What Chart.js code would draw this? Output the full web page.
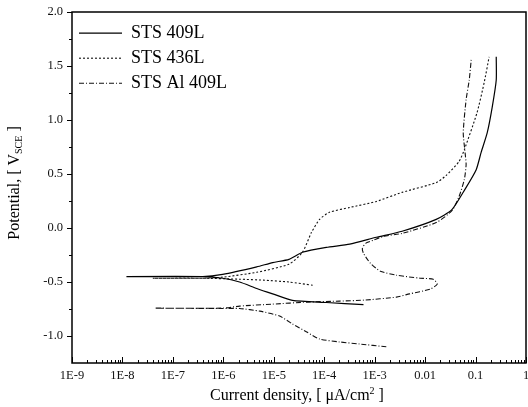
<!DOCTYPE html>
<html>
<head>
<meta charset="utf-8">
<script src="https://cdn.jsdelivr.net/npm/chart.js@4"></script>
<style>
  html, body { margin: 0; padding: 0; background: #fff; }
  #wrap { width: 528px; height: 407px; position: relative; }
</style>
</head>
<body>
<div id="wrap"><canvas id="myChart"></canvas></div>
<script>
// current density [uA/cm2] and potential [V_SCE]
const sts409Current = [6.0e-4, 1.1e-4, 2.35e-5, 9.5e-6, 4.6e-6, 2.1e-6, 9.7e-7, 3.9e-7, 1.2e-8, 3.9e-7, 9.7e-7, 4.6e-6, 9.5e-6, 2.0e-5, 3.7e-5, 1.1e-4, 3.2e-4, 1.08e-3, 3.5e-3, 1.66e-2, 3.4e-2, 6.2e-2, 1.03e-1, 1.29e-1, 1.7e-1, 2.14e-1, 2.57e-1, 2.57e-1];
const sts409Potential = [-0.71, -0.69, -0.67, -0.61, -0.56, -0.50, -0.465, -0.45, -0.45, -0.45, -0.43, -0.36, -0.32, -0.29, -0.225, -0.18, -0.15, -0.086, -0.03, 0.08, 0.17, 0.36, 0.54, 0.70, 0.88, 1.12, 1.37, 1.585];

const sts436Current = [5.9e-5, 2.0e-5, 6.3e-6, 2.1e-6, 3.9e-7, 4.0e-8, 3.9e-7, 9.7e-7, 4.6e-6, 2.0e-5, 3.7e-5, 5.6e-5, 8.1e-5, 1.26e-4, 3.2e-4, 1.08e-3, 3.5e-3, 1.66e-2, 2.6e-2, 4.7e-2, 6.0e-2, 1.07e-1, 1.48e-1, 1.86e-1];
const sts436Potential = [-0.53, -0.50, -0.483, -0.474, -0.465, -0.465, -0.465, -0.455, -0.41, -0.335, -0.225, -0.04, 0.08, 0.145, 0.19, 0.246, 0.33, 0.42, 0.486, 0.615, 0.726, 1.068, 1.345, 1.585];

const stsAlCurrent = [1.7e-3, 5.0e-4, 2.0e-4, 8.1e-5, 4.5e-5, 2.35e-5, 1.3e-5, 5.3e-6, 2.1e-6, 9.7e-7, 4.4e-8, 9.7e-7, 2.1e-6, 9.5e-6, 4.5e-5, 2.0e-4, 6.0e-4, 2.7e-3, 4.9e-3, 1.26e-2, 1.74e-2, 1.45e-2, 8.0e-3, 2.7e-3, 1.3e-3, 8.2e-4, 6.0e-4, 5.7e-4, 6.6e-4, 9.4e-4, 1.5e-3, 3.5e-3, 1.66e-2, 3.4e-2, 4.7e-2, 6.0e-2, 6.5e-2, 6.2e-2, 5.7e-2, 6.5e-2, 7.5e-2, 8.2e-2];
const stsAlPotential = [-1.10, -1.074, -1.055, -1.028, -0.963, -0.889, -0.815, -0.77, -0.745, -0.745, -0.742, -0.742, -0.723, -0.705, -0.686, -0.677, -0.668, -0.64, -0.61, -0.566, -0.52, -0.474, -0.465, -0.437, -0.40, -0.326, -0.234, -0.188, -0.142, -0.114, -0.077, -0.05, 0.05, 0.16, 0.29, 0.45, 0.588, 0.698, 0.883, 1.188, 1.372, 1.557];

const seriesNames = ['STS 409L', 'STS 436L', 'STS Al 409L'];

// axis ticks
const xTickExponents = [-9, -8, -7, -6, -5, -4, -3, -2, -1, 0];
const xTickLabels = ['1E-9', '1E-8', '1E-7', '1E-6', '1E-5', '1E-4', '1E-3', '0.01', '0.1', '1'];
const yTickValues = [-1.0, -0.5, 0.0, 0.5, 1.0, 1.5, 2.0];
const yTickLabels = ['-1.0', '-0.5', '0.0', '0.5', '1.0', '1.5', '2.0'];
const yMinorValues = [-0.75, -0.25, 0.25, 0.75, 1.25, 1.75];

const FONT = "'Liberation Serif', 'Times New Roman', serif";

function toPoints(xs, ys) {
    return xs.map((x, i) => ({ x: x, y: ys[i] }));
}

// frame box, inward x ticks, outward y ticks, and axis titles with sub/superscripts
const framePlugin = {
    id: 'frame',
    afterDraw(chart) {
        const ctx = chart.ctx;
        const area = chart.chartArea;
        const xs = chart.scales.x;
        const ys = chart.scales.y;
        ctx.save();
        ctx.strokeStyle = '#000';
        ctx.lineWidth = 1.5;
        ctx.strokeRect(area.left, area.top, area.right - area.left, area.bottom - area.top);

        ctx.lineWidth = 1;
        ctx.beginPath();
        xs.ticks.forEach(t => {
            const px = Math.round(xs.getPixelForValue(t.value)) + 0.5;
            const len = t.major ? 6 : 3;
            ctx.moveTo(px, area.bottom);
            ctx.lineTo(px, area.bottom - len);
        });
        ys.ticks.forEach(t => {
            const py = Math.round(ys.getPixelForValue(t.value)) + 0.5;
            const len = t.major ? 5 : 3;
            ctx.moveTo(area.left, py);
            ctx.lineTo(area.left - len, py);
        });
        ctx.stroke();

        ctx.fillStyle = '#000';
        ctx.textBaseline = 'middle';

        // x title: Current density, [ uA/cm^2 ]
        const big = '16px ' + FONT;
        const small = '10px ' + FONT;
        const xParts = [['Current density, [ \u03BCA/cm', big, 0], ['2', small, -5], [' ]', big, 0]];
        let total = 0;
        xParts.forEach(p => { ctx.font = p[1]; total += ctx.measureText(p[0]).width; });
        let x = (area.left + area.right) / 2 - 2 - total / 2;
        xParts.forEach(p => {
            ctx.font = p[1];
            ctx.fillText(p[0], x, 396 + p[2]);
            x += ctx.measureText(p[0]).width;
        });

        // y title: Potential, [ V_SCE ]
        const yParts = [['Potential, [ V', big, 0], ['SCE', small, 4], [' ]', big, 0]];
        total = 0;
        yParts.forEach(p => { ctx.font = p[1]; total += ctx.measureText(p[0]).width; });
        ctx.translate(15, 183);
        ctx.rotate(-Math.PI / 2);
        x = -total / 2;
        yParts.forEach(p => {
            ctx.font = p[1];
            ctx.fillText(p[0], x, p[2]);
            x += ctx.measureText(p[0]).width;
        });
        ctx.restore();
    }
};

const ctx = document.getElementById('myChart').getContext('2d');
new Chart(ctx, {
    type: 'line',
    data: {
        datasets: [
            {
                label: seriesNames[0],
                data: toPoints(sts409Current, sts409Potential),
                borderColor: '#000',
                borderWidth: 1.2
            },
            {
                label: seriesNames[1],
                data: toPoints(sts436Current, sts436Potential),
                borderColor: '#111',
                borderWidth: 1.1,
                borderDash: [2, 2]
            },
            {
                label: seriesNames[2],
                data: toPoints(stsAlCurrent, stsAlPotential),
                borderColor: '#111',
                borderWidth: 1.1,
                borderDash: [5, 2, 1, 2]
            }
        ]
    },
    options: {
        responsive: true,
        maintainAspectRatio: false,
        animation: false,
        parsing: false,
        elements: {
            point: { radius: 0 },
            line: { tension: 0.2, fill: false }
        },
        layout: {
            padding: { left: 0, right: 2, top: 12, bottom: 0 }
        },
        scales: {
            x: {
                type: 'logarithmic',
                min: 1e-9,
                max: 1,
                afterBuildTicks(scale) {
                    const ticks = [];
                    xTickExponents.forEach(e => {
                        ticks.push({ value: Math.pow(10, e), major: true });
                        if (e < 0) {
                            for (let k = 2; k <= 9; k++) {
                                ticks.push({ value: k * Math.pow(10, e), major: false });
                            }
                        }
                    });
                    scale.ticks = ticks;
                },
                afterFit(scale) {
                    scale.height = 44;
                    scale.paddingLeft = 0;
                    scale.paddingRight = 0;
                },
                ticks: {
                    autoSkip: false,
                    maxRotation: 0,
                    padding: 5,
                    color: '#111',
                    font: { family: FONT, size: 12.5 },
                    callback: (value, index, ticks) => {
                        if (!ticks[index].major) return '';
                        const i = xTickExponents.indexOf(Math.round(Math.log10(value)));
                        return i >= 0 ? xTickLabels[i] : '';
                    }
                },
                grid: { display: false, drawTicks: false },
                border: { display: false }
            },
            y: {
                type: 'linear',
                min: -1.25,
                max: 2.0,
                afterBuildTicks(scale) {
                    const ticks = yTickValues.map(v => ({ value: v, major: true }))
                        .concat(yMinorValues.map(v => ({ value: v, major: false })));
                    ticks.sort((a, b) => a.value - b.value);
                    scale.ticks = ticks;
                },
                afterFit(scale) {
                    scale.width = 72;
                    scale.paddingTop = 0;
                    scale.paddingBottom = 0;
                },
                ticks: {
                    padding: 9,
                    color: '#111',
                    font: { family: FONT, size: 12.5 },
                    callback: (value, index, ticks) => {
                        if (!ticks[index].major) return '';
                        const i = yTickValues.indexOf(value);
                        return i >= 0 ? yTickLabels[i] : '';
                    }
                },
                grid: { display: false, drawTicks: false },
                border: { display: false }
            }
        },
        plugins: {
            legend: {
                display: true,
                position: 'chartArea',
                align: 'start',
                // blank title only pushes the entries down to where the figure has them
                title: {
                    display: true,
                    text: ' ',
                    font: { size: 1 },
                    padding: { top: 16, bottom: 0 }
                },
                labels: {
                    usePointStyle: true,
                    pointStyle: 'line',
                    pointStyleWidth: 43,
                    padding: 7,
                    color: '#000',
                    font: { family: FONT, size: 18 },
                    generateLabels(chart) {
                        return chart.data.datasets.map((ds, i) => ({
                            text: ds.label,
                            datasetIndex: i,
                            strokeStyle: ds.borderColor,
                            fillStyle: ds.borderColor,
                            lineWidth: ds.borderWidth,
                            lineDash: ds.borderDash || [],
                            pointStyle: 'line',
                            fontColor: '#000',
                            hidden: false
                        }));
                    }
                }
            },
            tooltip: { enabled: false }
        }
    },
    plugins: [framePlugin]
});
</script>
</body>
</html>
